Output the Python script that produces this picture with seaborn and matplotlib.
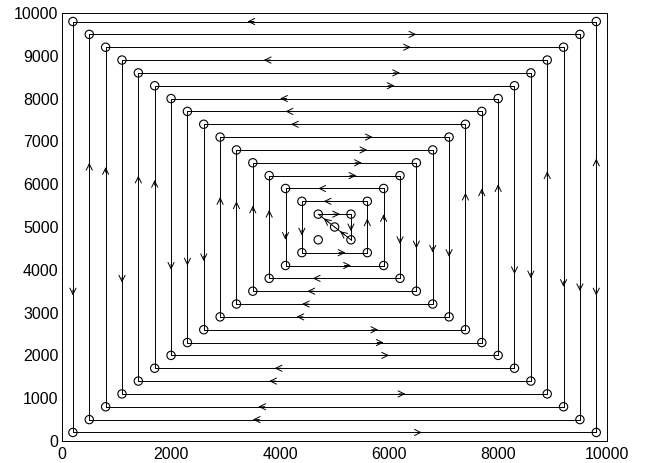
import matplotlib
matplotlib.use("Agg")
import numpy as np
import pandas as pd
import matplotlib.pyplot as plt
import seaborn as sns

# square side and ring offsets (corners at d and side - d)
side = 10000
ring_offsets = [200, 500, 800, 1100, 1400, 1700, 2000, 2300, 2600, 2900, 3200, 3500, 3800, 4100, 4400]
ring_dirs = ['ccw', 'cw', 'cw', 'ccw', 'cw', 'cw', 'ccw', 'ccw', 'ccw', 'cw', 'cw', 'cw', 'cw', 'ccw', 'ccw']

# innermost ring + centre point
inner_offset = 4700
centre = (5000, 5000)
inner_cycle_x = [4700, 5300, 5300, 5000]
inner_cycle_y = [5300, 5300, 4700, 5000]

# one extra edge on the outer ring (right side drawn both ways)
extra_from = [(9800, 9800)]
extra_to = [(9800, 200)]

arrow_pos = 2 / 3


def corners(d):
    return [(d, d), (side - d, d), (side - d, side - d), (d, side - d)]


def ring_edges(d, direction):
    a, b, c, dd = corners(d)
    loop = [a, b, c, dd, a] if direction == 'ccw' else [a, dd, c, b, a]
    return list(zip(loop[:-1], loop[1:]))


sns.set_style("white")
plt.rcParams['font.family'] = ['Liberation Sans', 'DejaVu Sans']

fig, ax = plt.subplots(figsize=(6.48, 4.63), dpi=100)
fig.subplots_adjust(left=0.0957, right=0.937, bottom=0.0475, top=0.972)

edges = []
for d, dr in zip(ring_offsets, ring_dirs):
    edges += ring_edges(d, dr)
loop = list(zip(inner_cycle_x, inner_cycle_y))
loop.append(loop[0])
edges += list(zip(loop[:-1], loop[1:]))
edges += list(zip(extra_from, extra_to))

for p0, p1 in edges:
    ax.plot([p0[0], p1[0]], [p0[1], p1[1]], color='black', lw=0.7, zorder=1)
    p0a, p1a = np.array(p0, float), np.array(p1, float)
    tip = p0a + arrow_pos * (p1a - p0a)
    u = (p1a - p0a) / np.linalg.norm(p1a - p0a)
    tail = tip - u * 120
    ax.annotate('', xy=tip, xytext=tail,
                arrowprops=dict(arrowstyle='->,head_length=0.45,head_width=0.22',
                                color='black', lw=0.7, shrinkA=0, shrinkB=0))

pts = []
for d in ring_offsets + [inner_offset]:
    pts += corners(d)
pts.append(centre)
df = pd.DataFrame(pts, columns=['x', 'y'])
sns.scatterplot(data=df, x='x', y='y', ax=ax, marker='o', s=36,
                facecolor='none', edgecolor='black', linewidth=0.8, zorder=3)

ax.set_xlim(0, 10000)
ax.set_ylim(0, 10000)
ax.set_xticks(range(0, 10001, 2000))
ax.set_yticks(range(0, 10001, 1000))
ax.set_xlabel('')
ax.set_ylabel('')
ax.tick_params(direction='in', length=4, width=0.6, labelsize=11.5,
               top=False, right=False, colors='black')
ax.tick_params(axis='x', pad=4.5)
ax.tick_params(axis='y', pad=2.5)
for s in ax.spines.values():
    s.set_color('black')
    s.set_linewidth(0.7)

fig.savefig('out.png', dpi=100)
